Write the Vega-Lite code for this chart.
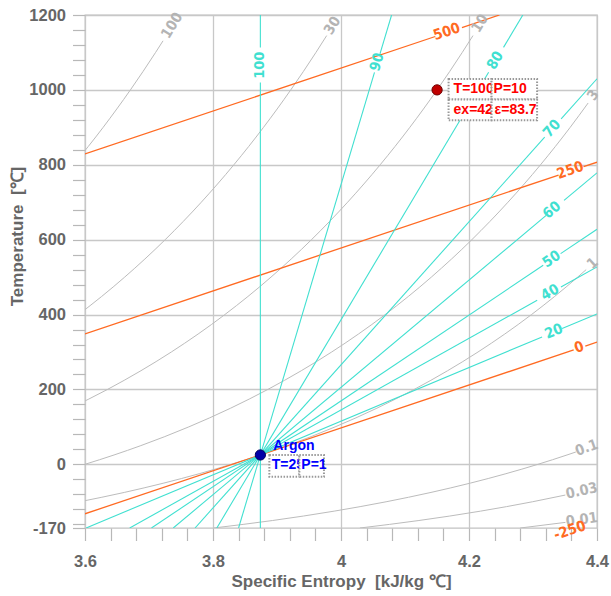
{
  "$schema": "https://vega.github.io/schema/vega-lite/v6.json",
  "width": 512,
  "height": 513,
  "autosize": "none",
  "padding": {"left": 85, "top": 15, "right": 14, "bottom": 68},
  "background": "#ffffff",
  "config": {
    "view": {"stroke": "#c2c2c2", "strokeWidth": 1.3},
    "axis": {
      "labelFont": "Liberation Sans, Arial, sans-serif",
      "labelFontSize": 16.5, "labelFontWeight": "bold", "labelColor": "#666666",
      "titleFont": "Liberation Sans, Arial, sans-serif",
      "titleFontSize": 17, "titleFontWeight": "bold", "titleColor": "#666666",
      "domain": false, "tickColor": "#b8b8b8", "tickSize": 12.5, "tickWidth": 1.2,
      "gridColor": "#c8c8c8", "gridWidth": 1.3, "labelFlush": false, "labelOverlap": false, "labelBound": false
    }
  },
  "datasets": {
    "isobars": [
      {"P": "100", "s": 3.58204, "T": 800}, {"P": "100", "s": 3.62839, "T": 900}, {"P": "100", "s": 3.67095, "T": 1000}, {"P": "100", "s": 3.71030, "T": 1100}, {"P": "100", "s": 3.72191, "T": 1131},
      {"P": "30", "s": 3.50625, "T": 300}, {"P": "30", "s": 3.58993, "T": 400}, {"P": "30", "s": 3.66199, "T": 500}, {"P": "30", "s": 3.72528, "T": 600}, {"P": "30", "s": 3.78170, "T": 700}, {"P": "30", "s": 3.83259, "T": 800}, {"P": "30", "s": 3.87894, "T": 900}, {"P": "30", "s": 3.92150, "T": 1000}, {"P": "30", "s": 3.96085, "T": 1100}, {"P": "30", "s": 3.97762, "T": 1145},
      {"P": "10", "s": 3.57700, "T": 150}, {"P": "10", "s": 3.63511, "T": 200}, {"P": "10", "s": 3.68738, "T": 250}, {"P": "10", "s": 3.73487, "T": 300}, {"P": "10", "s": 3.81855, "T": 400}, {"P": "10", "s": 3.89061, "T": 500}, {"P": "10", "s": 3.95390, "T": 600}, {"P": "10", "s": 4.01031, "T": 700}, {"P": "10", "s": 4.06121, "T": 800}, {"P": "10", "s": 4.10756, "T": 900}, {"P": "10", "s": 4.15012, "T": 1000}, {"P": "10", "s": 4.18947, "T": 1100}, {"P": "10", "s": 4.20624, "T": 1145},
      {"P": "3", "s": 3.54987, "T": -25}, {"P": "3", "s": 3.59981, "T": 0}, {"P": "3", "s": 3.64538, "T": 25}, {"P": "3", "s": 3.68728, "T": 50}, {"P": "3", "s": 3.76213, "T": 100}, {"P": "3", "s": 3.82755, "T": 150}, {"P": "3", "s": 3.88566, "T": 200}, {"P": "3", "s": 3.93793, "T": 250}, {"P": "3", "s": 3.98542, "T": 300}, {"P": "3", "s": 4.06910, "T": 400}, {"P": "3", "s": 4.14116, "T": 500}, {"P": "3", "s": 4.20445, "T": 600}, {"P": "3", "s": 4.26086, "T": 700}, {"P": "3", "s": 4.31176, "T": 800}, {"P": "3", "s": 4.35811, "T": 900}, {"P": "3", "s": 4.38617, "T": 965},
      {"P": "1", "s": 3.51012, "T": -125}, {"P": "1", "s": 3.59125, "T": -100}, {"P": "1", "s": 3.66142, "T": -75}, {"P": "1", "s": 3.72324, "T": -50}, {"P": "1", "s": 3.77849, "T": -25}, {"P": "1", "s": 3.82843, "T": 0}, {"P": "1", "s": 3.87400, "T": 25}, {"P": "1", "s": 3.91590, "T": 50}, {"P": "1", "s": 3.99075, "T": 100}, {"P": "1", "s": 4.05617, "T": 150}, {"P": "1", "s": 4.11428, "T": 200}, {"P": "1", "s": 4.16655, "T": 250}, {"P": "1", "s": 4.21404, "T": 300}, {"P": "1", "s": 4.29772, "T": 400}, {"P": "1", "s": 4.36978, "T": 500}, {"P": "1", "s": 4.38307, "T": 520},
      {"P": "0.1", "s": 3.80092, "T": -170}, {"P": "0.1", "s": 3.89313, "T": -150}, {"P": "0.1", "s": 3.98929, "T": -125}, {"P": "0.1", "s": 4.07042, "T": -100}, {"P": "0.1", "s": 4.14059, "T": -75}, {"P": "0.1", "s": 4.20241, "T": -50}, {"P": "0.1", "s": 4.25766, "T": -25}, {"P": "0.1", "s": 4.30760, "T": 0}, {"P": "0.1", "s": 4.35317, "T": 25}, {"P": "0.1", "s": 4.36695, "T": 33},
      {"P": "0.03", "s": 4.02954, "T": -170}, {"P": "0.03", "s": 4.12175, "T": -150}, {"P": "0.03", "s": 4.21791, "T": -125}, {"P": "0.03", "s": 4.29904, "T": -100}, {"P": "0.03", "s": 4.35050, "T": -82},
      {"P": "0.01", "s": 4.28009, "T": -170}, {"P": "0.01", "s": 4.35073, "T": -155}
    ],
    "exergy": [
      {"seg": "500a", "s": 3.6, "T": 829.0}, {"seg": "500a", "s": 4.1473, "T": 1142.6},
      {"seg": "500b", "s": 4.1890, "T": 1166.5}, {"seg": "500b", "s": 4.2476, "T": 1200},
      {"seg": "250a", "s": 3.6, "T": 348.5}, {"seg": "250a", "s": 4.34, "T": 772.5},
      {"seg": "250b", "s": 4.379, "T": 794.9}, {"seg": "250b", "s": 4.4, "T": 806.9},
      {"seg": "0a", "s": 3.6, "T": -132.0}, {"seg": "0a", "s": 4.3636, "T": 305.6},
      {"seg": "0b", "s": 4.3817, "T": 315.9}, {"seg": "0b", "s": 4.4, "T": 326.4}
    ],
    "efficiency": [
      {"seg": "100a", "s": 3.874, "T": -170}, {"seg": "100a", "s": 3.874, "T": 1020},
      {"seg": "100b", "s": 3.874, "T": 1113}, {"seg": "100b", "s": 3.874, "T": 1200},
      {"seg": "90a", "s": 3.83997, "T": -170}, {"seg": "90a", "s": 4.05233, "T": 1046.9},
      {"seg": "90b", "s": 4.06090, "T": 1096}, {"seg": "90b", "s": 4.07905, "T": 1200},
      {"seg": "80a", "s": 3.80594, "T": -170}, {"seg": "80a", "s": 4.23066, "T": 1046.9},
      {"seg": "80b", "s": 4.25395, "T": 1113.6}, {"seg": "80b", "s": 4.28410, "T": 1200},
      {"seg": "70a", "s": 3.77191, "T": -170}, {"seg": "70a", "s": 4.31826, "T": 873.6},
      {"seg": "70b", "s": 4.34396, "T": 922.7}, {"seg": "70b", "s": 4.4, "T": 1029.7},
      {"seg": "60a", "s": 3.73788, "T": -170}, {"seg": "60a", "s": 4.32060, "T": 664.8},
      {"seg": "60b", "s": 4.34852, "T": 704.8}, {"seg": "60b", "s": 4.4, "T": 778.5},
      {"seg": "50a", "s": 3.70385, "T": -170}, {"seg": "50a", "s": 4.31595, "T": 531.5},
      {"seg": "50b", "s": 4.34317, "T": 562.7}, {"seg": "50b", "s": 4.4, "T": 627.8},
      {"seg": "40a", "s": 3.66983, "T": -170}, {"seg": "40a", "s": 4.30652, "T": 438.1},
      {"seg": "40b", "s": 4.34368, "T": 473.6}, {"seg": "40b", "s": 4.4, "T": 527.4},
      {"seg": "20a", "s": 3.60176, "T": -170}, {"seg": "20a", "s": 4.31419, "T": 340.3},
      {"seg": "20b", "s": 4.34547, "T": 362.7}, {"seg": "20b", "s": 4.4, "T": 401.8}
    ],
    "labels": [
      {"s": 3.7365, "T": 1171, "text": "100", "kind": "isobar", "angle": -58.4},
      {"s": 3.9871, "T": 1171, "text": "30", "kind": "isobar", "angle": -58.4},
      {"s": 4.2179, "T": 1177, "text": "10", "kind": "isobar", "angle": -58.5},
      {"s": 4.3945, "T": 985, "text": "3", "kind": "isobar", "angle": -54.7},
      {"s": 4.3935, "T": 536, "text": "1", "kind": "isobar", "angle": -42.3},
      {"s": 4.3841, "T": 43, "text": "0.1", "kind": "isobar", "angle": -19.6},
      {"s": 4.3763, "T": -72, "text": "0.03", "kind": "isobar", "angle": -12.7},
      {"s": 4.3763, "T": -149, "text": "0.01", "kind": "isobar", "angle": -7.9},
      {"s": 4.1656, "T": 1154, "text": "500", "kind": "exergy", "angle": -18.5},
      {"s": 4.3586, "T": 784, "text": "250", "kind": "exergy", "angle": -18.5},
      {"s": 4.3723, "T": 311, "text": "0", "kind": "exergy", "angle": -18.5},
      {"s": 4.3578, "T": -178, "text": "-250", "kind": "exergy", "angle": -18.5},
      {"s": 3.874, "T": 1066, "text": "100", "kind": "efficiency", "angle": -90},
      {"s": 4.0570, "T": 1074, "text": "90", "kind": "efficiency", "angle": -73.4},
      {"s": 4.2416, "T": 1078, "text": "80", "kind": "efficiency", "angle": -59.2},
      {"s": 4.3300, "T": 896, "text": "70", "kind": "efficiency", "angle": -48.2},
      {"s": 4.3300, "T": 678, "text": "60", "kind": "efficiency", "angle": -40.0},
      {"s": 4.3295, "T": 547, "text": "50", "kind": "efficiency", "angle": -33.8},
      {"s": 4.3271, "T": 458, "text": "40", "kind": "efficiency", "angle": -29.2},
      {"s": 4.3328, "T": 354, "text": "20", "kind": "efficiency", "angle": -22.7}
    ],
    "state": [{"s": 4.15012, "T": 1000, "a": "T=1000", "b": "P=10", "c": "ex=425", "d": "ε=83.77"}],
    "ref": [{"s": 3.874, "T": 25, "name": "Argon", "a": "T=25", "b": "P=1"}]
  },
  "encoding": {
    "x": {
      "field": "s", "type": "quantitative",
      "scale": {"domain": [3.6, 4.4], "nice": false, "zero": false},
      "axis": {
        "title": "Specific Entropy\u00a0 [kJ/kg ℃]",
        "values": [3.6, 3.64, 3.68, 3.72, 3.76, 3.8, 3.84, 3.88, 3.92, 3.96, 4.0, 4.04, 4.08, 4.12, 4.16, 4.2, 4.24, 4.28, 4.32, 4.36, 4.4],
        "labelExpr": "abs(round(datum.value*100)) % 20 === 0 ? format(datum.value, '.1~f') : ''",
        "gridOpacity": {"condition": {"test": "abs(round(datum.value*100)) % 20 === 0", "value": 1}, "value": 0},
        "labelPadding": 13,
        "titleY": 53, "titleBaseline": "middle"
      }
    },
    "y": {
      "field": "T", "type": "quantitative",
      "scale": {"domain": [-170, 1200], "nice": false, "zero": false},
      "axis": {
        "title": "Temperature\u00a0 [℃]",
        "values": [-170, -160, -120, -80, -40, 0, 40, 80, 120, 160, 200, 240, 280, 320, 360, 400, 440, 480, 520, 560, 600, 640, 680, 720, 760, 800, 840, 880, 920, 960, 1000, 1040, 1080, 1120, 1160, 1200],
        "labelExpr": "datum.value === -170 ? '-170' : (datum.value % 200 === 0 ? format(datum.value, 'd') : '')",
        "gridOpacity": {"condition": {"test": "datum.value >= 0 && datum.value % 200 === 0", "value": 1}, "value": 0},
        "labelPadding": 7,
        "titleX": -68, "titleY": 221, "titleBaseline": "middle"
      }
    }
  },
  "layer": [
    {
      "data": {"name": "isobars"},
      "mark": {"type": "line", "clip": true, "color": "#bcbcbc", "strokeWidth": 1, "interpolate": "monotone"},
      "encoding": {"detail": {"field": "P"}}
    },
    {
      "data": {"name": "exergy"},
      "mark": {"type": "line", "clip": true, "color": "#ff6a22", "strokeWidth": 1.3},
      "encoding": {"detail": {"field": "seg"}}
    },
    {
      "data": {"name": "efficiency"},
      "mark": {"type": "line", "clip": true, "color": "#40e0d0", "strokeWidth": 1.1},
      "encoding": {"detail": {"field": "seg"}}
    },
    {
      "data": {"name": "labels"},
      "mark": {"type": "text", "font": "DejaVu Sans Condensed, sans-serif", "fontSize": 14.5, "fontWeight": "bold", "align": "center", "baseline": "middle"},
      "encoding": {
        "text": {"field": "text"},
        "angle": {"field": "angle", "type": "quantitative", "scale": null},
        "color": {"field": "kind", "type": "nominal", "scale": {"domain": ["isobar", "exergy", "efficiency"], "range": ["#b4b4b4", "#ff6a22", "#40e0d0"]}, "legend": null}
      }
    },
    {
      "data": {"name": "state"},
      "mark": {"type": "point", "filled": true, "fill": "#c00000", "stroke": "#700000", "strokeWidth": 1, "size": 105, "opacity": 1}
    },
    {
      "data": {"name": "ref"},
      "mark": {"type": "point", "filled": true, "fill": "#0000a8", "stroke": "#000060", "strokeWidth": 1, "size": 105, "opacity": 1}
    },
    {
      "data": {"name": "state"},
      "mark": {"type": "rect", "fill": "#ffffff", "stroke": "#999999", "strokeWidth": 2, "strokeDash": [1.5, 1.5], "xOffset": 11.5, "x2Offset": 54.5, "yOffset": -11, "y2Offset": 9.7},
      "encoding": {"x2": {"field": "s"}, "y2": {"field": "T"}}
    },
    {
      "data": {"name": "state"},
      "mark": {"type": "text", "font": "Liberation Sans, Arial, sans-serif", "fontSize": 14, "fontWeight": "bold", "color": "#ff0000", "align": "left", "baseline": "middle", "dx": 16.5, "dy": -0.5},
      "encoding": {"text": {"field": "a"}}
    },
    {
      "data": {"name": "state"},
      "mark": {"type": "rect", "fill": "#ffffff", "stroke": "#999999", "strokeWidth": 2, "strokeDash": [1.5, 1.5], "xOffset": 54.5, "x2Offset": 100, "yOffset": -11, "y2Offset": 9.7},
      "encoding": {"x2": {"field": "s"}, "y2": {"field": "T"}}
    },
    {
      "data": {"name": "state"},
      "mark": {"type": "text", "font": "Liberation Sans, Arial, sans-serif", "fontSize": 14, "fontWeight": "bold", "color": "#ff0000", "align": "left", "baseline": "middle", "dx": 56.5, "dy": -0.5},
      "encoding": {"text": {"field": "b"}}
    },
    {
      "data": {"name": "state"},
      "mark": {"type": "rect", "fill": "#ffffff", "stroke": "#999999", "strokeWidth": 2, "strokeDash": [1.5, 1.5], "xOffset": 11.5, "x2Offset": 54.5, "yOffset": 9.7, "y2Offset": 30.4},
      "encoding": {"x2": {"field": "s"}, "y2": {"field": "T"}}
    },
    {
      "data": {"name": "state"},
      "mark": {"type": "text", "font": "Liberation Sans, Arial, sans-serif", "fontSize": 14, "fontWeight": "bold", "color": "#ff0000", "align": "left", "baseline": "middle", "dx": 16.5, "dy": 20.5},
      "encoding": {"text": {"field": "c"}}
    },
    {
      "data": {"name": "state"},
      "mark": {"type": "rect", "fill": "#ffffff", "stroke": "#999999", "strokeWidth": 2, "strokeDash": [1.5, 1.5], "xOffset": 54.5, "x2Offset": 100, "yOffset": 9.7, "y2Offset": 30.4},
      "encoding": {"x2": {"field": "s"}, "y2": {"field": "T"}}
    },
    {
      "data": {"name": "state"},
      "mark": {"type": "text", "font": "Liberation Sans, Arial, sans-serif", "fontSize": 14, "fontWeight": "bold", "color": "#ff0000", "align": "left", "baseline": "middle", "dx": 57.5, "dy": 20.5, "limit": 43, "ellipsis": "\u200b"},
      "encoding": {"text": {"field": "d"}}
    },
    {
      "data": {"name": "ref"},
      "mark": {"type": "text", "font": "Liberation Sans, Arial, sans-serif", "fontSize": 14, "fontWeight": "bold", "color": "#0000ff", "align": "left", "baseline": "middle", "dx": 13, "dy": -8.5},
      "encoding": {"text": {"field": "name"}}
    },
    {
      "data": {"name": "ref"},
      "mark": {"type": "rect", "fill": "#ffffff", "stroke": "#999999", "strokeWidth": 2, "strokeDash": [1.5, 1.5], "xOffset": 9, "x2Offset": 39, "yOffset": 0, "y2Offset": 21.7},
      "encoding": {"x2": {"field": "s"}, "y2": {"field": "T"}}
    },
    {
      "data": {"name": "ref"},
      "mark": {"type": "text", "font": "Liberation Sans, Arial, sans-serif", "fontSize": 14, "fontWeight": "bold", "color": "#0000ff", "align": "left", "baseline": "middle", "dx": 11.3, "dy": 10},
      "encoding": {"text": {"field": "a"}}
    },
    {
      "data": {"name": "ref"},
      "mark": {"type": "rect", "fill": "#ffffff", "stroke": "#999999", "strokeWidth": 2, "strokeDash": [1.5, 1.5], "xOffset": 39, "x2Offset": 63.6, "yOffset": 0, "y2Offset": 21.7},
      "encoding": {"x2": {"field": "s"}, "y2": {"field": "T"}}
    },
    {
      "data": {"name": "ref"},
      "mark": {"type": "text", "font": "Liberation Sans, Arial, sans-serif", "fontSize": 14, "fontWeight": "bold", "color": "#0000ff", "align": "left", "baseline": "middle", "dx": 41, "dy": 10},
      "encoding": {"text": {"field": "b"}}
    }
  ]
}
